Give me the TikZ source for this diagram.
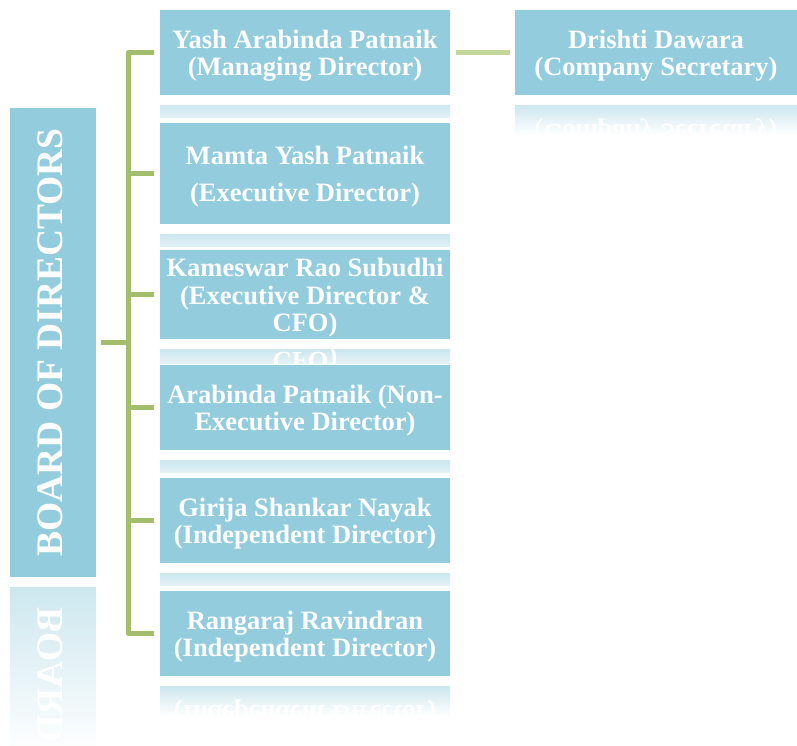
\documentclass[tikz,border=0pt]{standalone}
\usepackage{fontspec}
\setmainfont{Liberation Serif}
\usetikzlibrary{calc}
\definecolor{boxblue}{HTML}{93CDDD}
\definecolor{reflblue}{HTML}{CDE7EF}
\definecolor{treegreen}{HTML}{A2BE6C}
\definecolor{linkgreen}{HTML}{C3D69B}
\newcommand{\topstrut}{\rule{0pt}{25pt}}
\tikzset{member/.style = {fill=boxblue, text=white, align=center, inner sep=2,
                          font=\bfseries\fontsize{26.5}{27.5}\selectfont,
                          minimum width=290, minimum height=85}}
\tikzset{boardlabel/.style = {text=white, inner sep=0,
                              font=\bfseries\fontsize{37.5}{40}\selectfont}}
\tikzset{conn/.style = {draw=treegreen, line width=5, line join=round,
                        shorten <=5, shorten >=6}}
\newcommand{\reflectunder}[4]{%
  \begin{scope}
    \clip ($(#1.south west)+(0,10)$) rectangle ($(#1.south east)+(0,10+#3)$);
    \shade[top color=reflblue, bottom color=white]
      ($(#1.south west)+(0,10)$) rectangle ($(#1.south east)+(0,{10+0.35*#2})$);
    \node[member, fill=none, yscale=-1] at ($(#1.center)+(0,#2+10)$) {#4};
  \end{scope}}

\begin{document}
\begin{tikzpicture}[x=1pt, y=-1pt]
      \useasboundingbox (0,0) rectangle (797,745);
      \node[member, minimum width=86, minimum height=469]
        (board) at (53,342.5) {};
      \node[boardlabel, rotate=90]
        (boardtext) at ($(board.center)+(-2.5,0)$) {BOARD OF DIRECTORS};
      \begin{scope}
        \clip ($(board.south west)+(0,10)$) rectangle ($(board.south east)+(0,175)$);
        \shade[top color=reflblue, bottom color=white]
          ($(board.south west)+(0,10)$) rectangle ($(board.south east)+(0,178)$);
        \node[boardlabel, yscale=-1, rotate=90]
          at ($(boardtext.center)+(0,479)$) {BOARD OF DIRECTORS};
      \end{scope}
      \node[member] (m1) at (305,52.5)
        {\topstrut Yash Arabinda Patnaik\\(Managing Director)};
      \reflectunder{m1}{85}{12}{\topstrut Yash Arabinda Patnaik\\(Managing Director)}
      \node[member, minimum height=101] (m2) at (305,173.5)
        {\topstrut Mamta Yash Patnaik\\[9.5pt](Executive Director)};
      \reflectunder{m2}{101}{12}{\topstrut Mamta Yash Patnaik\\[9.5pt](Executive Director)}
      \node[member] (m3) at (305,294.5)
        {\topstrut Kameswar Rao Subudhi\\(Executive Director \&\\CFO)};
      \reflectunder{m3}{85}{14}{\topstrut Kameswar Rao Subudhi\\(Executive Director \&\\CFO)}
      \node[member] (m4) at (305,407.5)
        {\topstrut Arabinda Patnaik (Non-\\Executive Director)};
      \reflectunder{m4}{85}{12}{\topstrut Arabinda Patnaik (Non-\\Executive Director)}
      \node[member] (m5) at (305,520.5)
        {\topstrut Girija Shankar Nayak\\(Independent Director)};
      \reflectunder{m5}{85}{12}{\topstrut Girija Shankar Nayak\\(Independent Director)}
      \node[member] (m6) at (305,633.5)
        {\topstrut Rangaraj Ravindran\\(Independent Director)};
      \reflectunder{m6}{85}{30}{\topstrut Rangaraj Ravindran\\(Independent Director)}
      \node[member, minimum width=282] (sec) at (656,52.5)
        {\topstrut Drishti Dawara\\(Company Secretary)};
      \reflectunder{sec}{85}{30}{\topstrut Drishti Dawara\\(Company Secretary)}
      \draw[conn] (board.east) -- ++(32,0) |- (m1.west);
      \draw[conn] (board.east) -- ++(32,0) |- (m2.west);
      \draw[conn] (board.east) -- ++(32,0) |- (m3.west);
      \draw[conn] (board.east) -- ++(32,0) |- (m4.west);
      \draw[conn] (board.east) -- ++(32,0) |- (m5.west);
      \draw[conn] (board.east) -- ++(32,0) |- (m6.west);
      \draw[conn, draw=linkgreen, shorten <=6, shorten >=5] (m1.east) -- (sec.west);
\end{tikzpicture}
\end{document}
